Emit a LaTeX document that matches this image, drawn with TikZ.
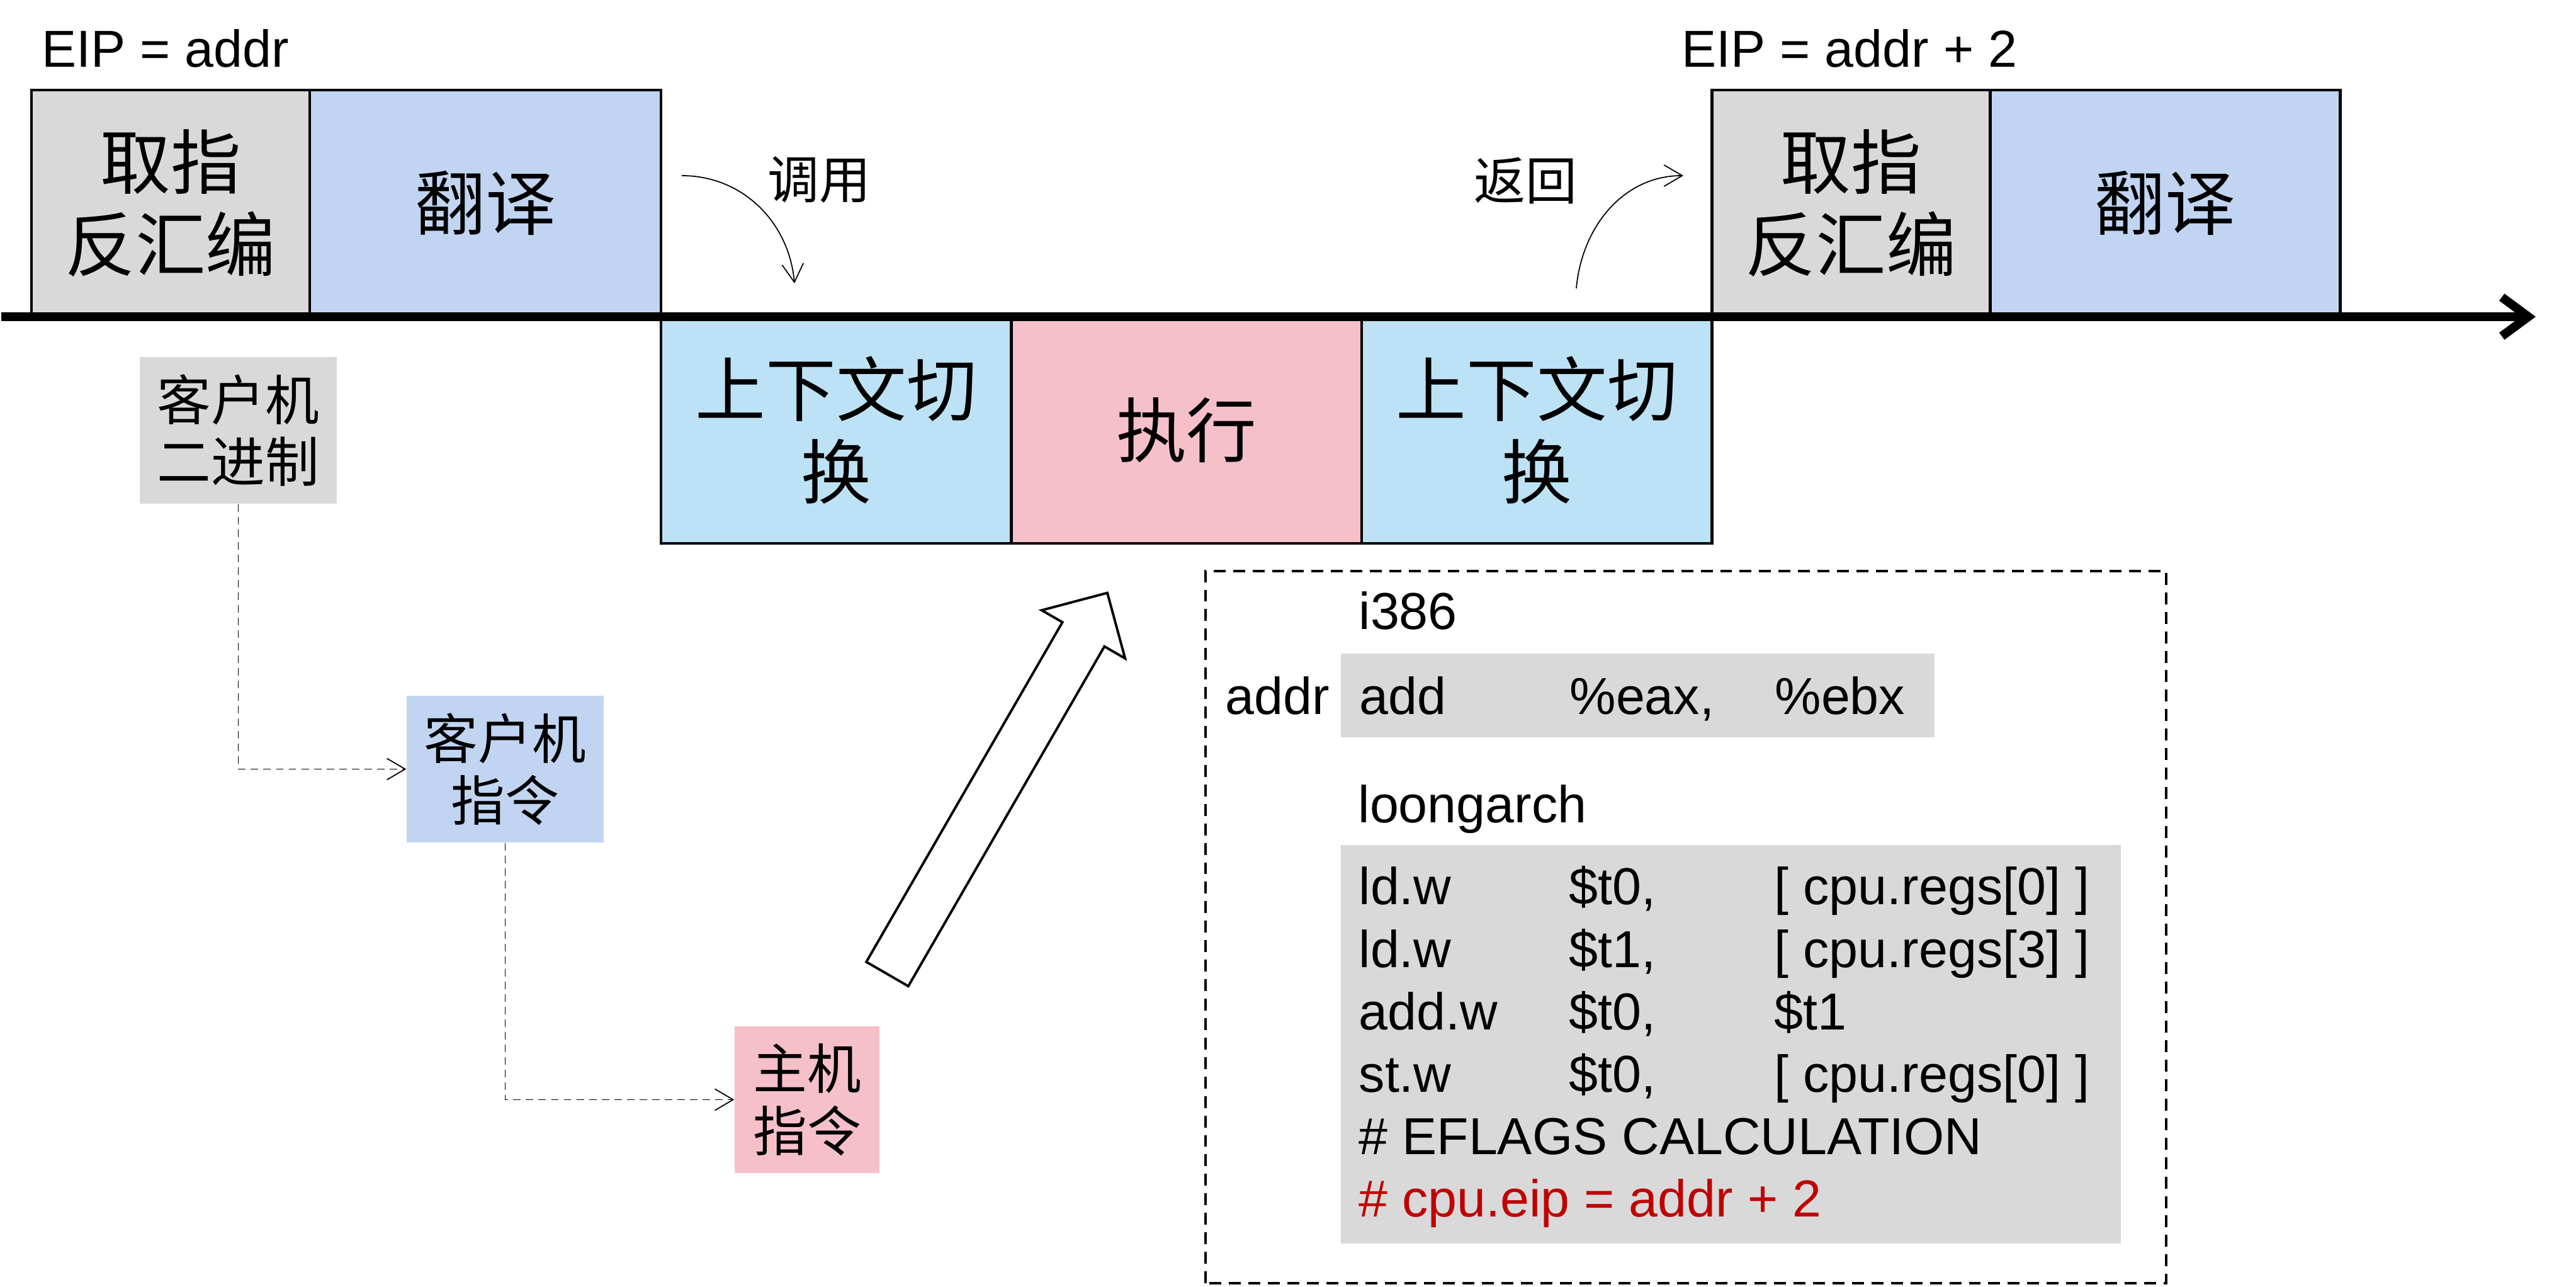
\documentclass[tikz,border=0pt]{standalone}
\usepackage{xcolor}
\usepackage{fontspec}
\setmainfont{Liberation Sans}
\newfontfamily\cjk{Noto Sans CJK SC}
\usepackage{tikz}
\usetikzlibrary{arrows.meta}
\usetikzlibrary{positioning}
\definecolor{stagegray}{HTML}{D9D9D9}
\definecolor{transblue}{HTML}{C1D5F2}
\definecolor{ctxblue}{HTML}{BDE2F5}
\definecolor{execpink}{HTML}{F6C0CA}
\definecolor{eipred}{HTML}{C00000}
\newcommand\asmline[3]{\makebox[3.34cm][l]{#1}\makebox[3.26cm][l]{#2}#3}
\tikzset{>=stealth,
  stagebox/.style={draw, line width=1.2pt, minimum height=3.6cm, inner sep=0pt, outer sep=0pt, align=center, font=\cjk\fontsize{31.8pt}{37.3pt}\selectfont},
  infobox/.style={minimum width=3.13cm, minimum height=2.33cm, inner sep=0pt, align=center, font=\cjk\fontsize{24.4pt}{28pt}\selectfont},
  codetext/.style={anchor=base west, inner sep=0pt, font=\fontsize{23.5pt}{28.2pt}\selectfont},
  calltext/.style={inner sep=0pt, font=\cjk\fontsize{23.3pt}{28pt}\selectfont},
  callarrow/.style={line width=0.5pt, -{Straight Barb[length=0.29cm,width=0.34cm]}},
  dashflow/.style={callarrow, dash pattern=on 3.4pt off 2.3pt}}

\begin{document}
\begin{tikzpicture}
      \useasboundingbox (0,0) rectangle (40.92,20.44);
      \node[stagebox, fill=stagegray, minimum width=4.42cm, anchor=south west] (fetchA) at (0.50,15.41) {取指\\反汇编};
      \node[stagebox, fill=transblue, minimum width=5.58cm, right=0pt of fetchA] (transA) {翻译};
      \node[stagebox, fill=ctxblue, minimum width=5.565cm, anchor=north west] (ctxA) at (transA.south east) {上下文切\\换};
      \node[stagebox, fill=execpink, minimum width=5.565cm, right=0pt of ctxA] (exec) {执行};
      \node[stagebox, fill=ctxblue, minimum width=5.565cm, right=0pt of exec] (ctxB) {上下文切\\换};
      \node[stagebox, fill=stagegray, minimum width=4.42cm, anchor=south west] (fetchB) at (ctxB.north east) {取指\\反汇编};
      \node[stagebox, fill=transblue, minimum width=5.56cm, right=0pt of fetchB] (transB) {翻译};
      \coordinate (tStart) at (0.02,15.41);
      \coordinate (tEnd) at (40.28,15.41);
      \draw[line width=4pt, -{Straight Barb[length=0.42cm,width=0.62cm]}] (tStart) -- (tEnd);
      \node[codetext] (eipA) at (0.66,19.37) {EIP = addr};
      \node[codetext] (eipB) at (26.71,19.37) {EIP = addr + 2};
      \node[calltext] (callLbl) at (13.01,17.58) {调用};
      \node[calltext] (retLbl) at (24.23,17.57) {返回};
      \coordinate (callFrom) at (10.83,17.65);
      \coordinate (callTo) at (12.62,15.94);
      \draw[callarrow] (callFrom) to[out=0,in=95] (callTo);
      \coordinate (retFrom) at (25.04,15.86);
      \coordinate (retTo) at (26.74,17.65);
      \draw[callarrow] (retFrom) to[out=85,in=180] (retTo);
      \node[infobox, fill=stagegray] (binBox) at (3.785,13.605) {客户机\\二进制};
      \node[infobox, fill=transblue] (guestBox) at (8.025,8.225) {客户机\\指令};
      \node[infobox, fill=execpink, minimum width=2.30cm] (hostBox) at (12.82,2.975) {主机\\指令};
      \draw[dashflow] (binBox.south) |- (guestBox.west);
      \draw[dashflow] (guestBox.south) |- (hostBox.west);
      \begin{scope}[shift={(14.095,4.97)}, rotate=60]
        \draw[line width=1.1pt, fill=white] (0,-0.385) -- (6.23,-0.385) -- (6.23,-0.765) -- (6.99,0) -- (6.23,0.765) -- (6.23,0.385) -- (0,0.385) -- cycle;
      \end{scope}
      \draw[line width=1.3pt, dash pattern=on 5.4pt off 3.4pt] (19.15,0.06) rectangle (34.41,11.37);
      \fill[stagegray] (21.30,8.73) rectangle (30.73,10.06);
      \fill[stagegray] (21.30,0.69) rectangle (33.69,7.02);
      \node[codetext] (isaX86) at (21.58,10.44) {i386};
      \node[codetext] (addrLbl) at (19.46,9.09) {addr};
      \node[codetext] (x86Line) at (21.59,9.09) {\asmline{add}{\%eax,}{\%ebx}};
      \node[codetext] (isaLa) at (21.57,7.37) {loongarch};
      \node[codetext] (laLine1) at (21.58,6.07) {\asmline{ld.w}{\$t0,}{[ cpu.regs[0] ]}};
      \node[codetext] (laLine2) at (21.58,5.078) {\asmline{ld.w}{\$t1,}{[ cpu.regs[3] ]}};
      \node[codetext] (laLine3) at (21.58,4.086) {\asmline{add.w}{\$t0,}{\$t1}};
      \node[codetext] (laLine4) at (21.58,3.094) {\asmline{st.w}{\$t0,}{[ cpu.regs[0] ]}};
      \node[codetext] (laLine5) at (21.58,2.102) {\# EFLAGS CALCULATION};
      \node[codetext, text=eipred] (laLine6) at (21.58,1.11) {\# cpu.eip = addr + 2};
\end{tikzpicture}
\end{document}
